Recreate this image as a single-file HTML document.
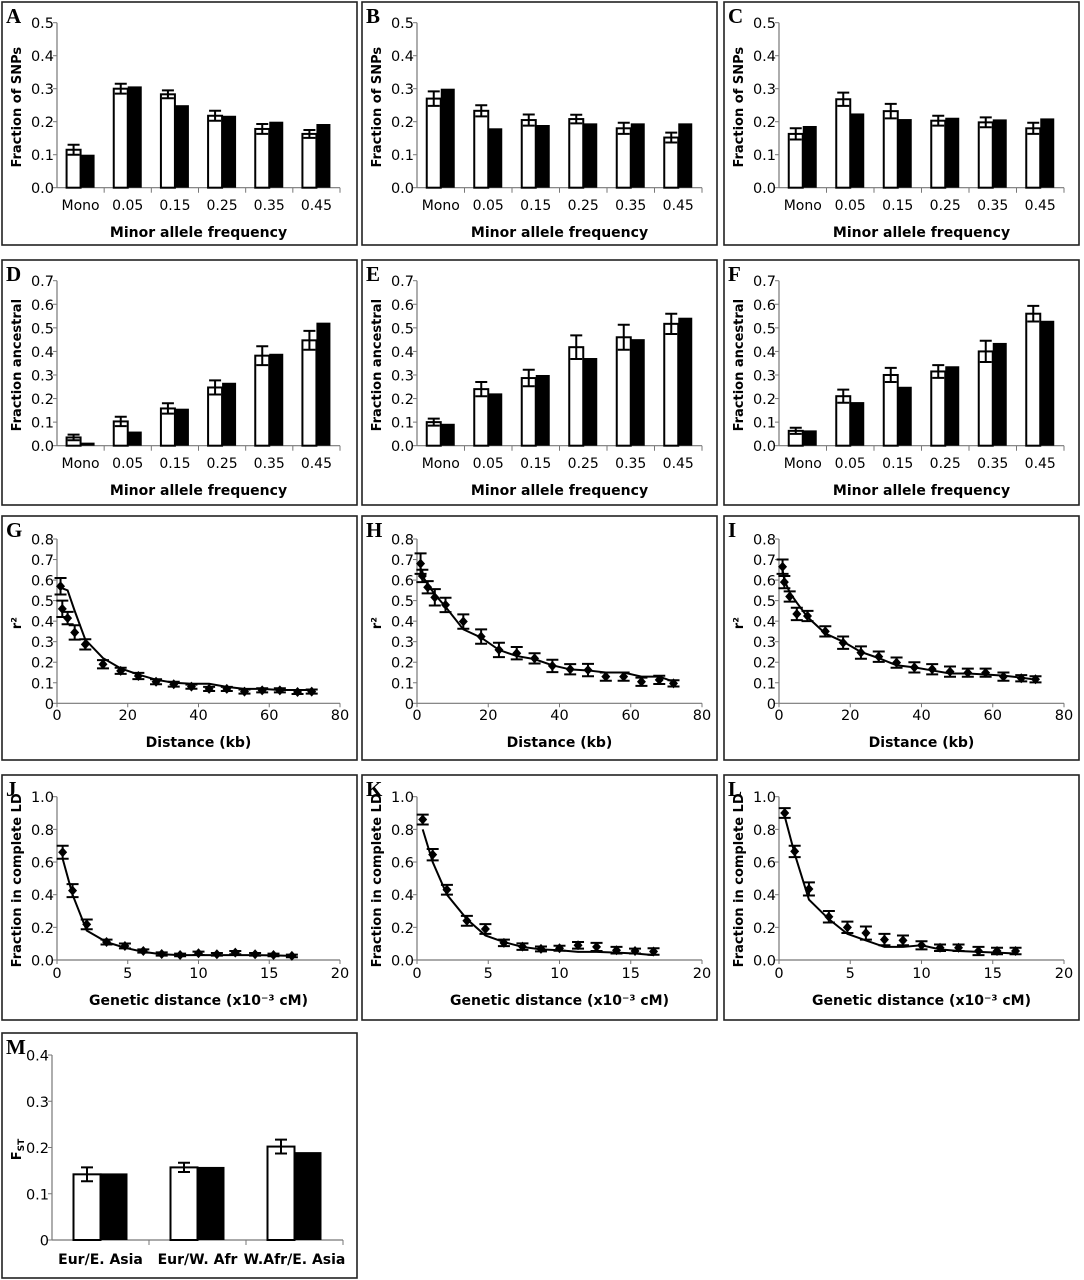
<!DOCTYPE html>
<html><head><meta charset="utf-8"><style>
html,body{margin:0;padding:0;background:#fff;}
svg{display:block;font-family:"DejaVu Sans","Liberation Sans",sans-serif;}
</style></head><body>
<svg id="fig" width="1084" height="1280" viewBox="0 0 1084 1280" xmlns="http://www.w3.org/2000/svg"></svg>
<script>
// ---- data ----
const mafCats = ["Mono","0.05","0.15","0.25","0.35","0.45"];
const aWhite = [0.115,0.30,0.283,0.218,0.178,0.163];
const aErr   = [0.015,0.015,0.012,0.015,0.015,0.012];
const aBlack = [0.10,0.307,0.25,0.218,0.20,0.193];
const bWhite = [0.27,0.233,0.205,0.208,0.18,0.152];
const bErr   = [0.022,0.017,0.017,0.013,0.017,0.015];
const bBlack = [0.30,0.18,0.19,0.195,0.195,0.195];
const cWhite = [0.163,0.268,0.232,0.203,0.198,0.18];
const cErr   = [0.017,0.02,0.022,0.015,0.015,0.017];
const cBlack = [0.187,0.225,0.208,0.212,0.207,0.21];
const dWhite = [0.035,0.103,0.158,0.247,0.382,0.447];
const dErr   = [0.012,0.02,0.022,0.03,0.04,0.04];
const dBlack = [0.013,0.06,0.157,0.267,0.39,0.522];
const eWhite = [0.10,0.24,0.287,0.418,0.46,0.517];
const eErr   = [0.015,0.03,0.035,0.05,0.053,0.043];
const eBlack = [0.093,0.222,0.30,0.372,0.452,0.543];
const fWhite = [0.063,0.21,0.30,0.315,0.40,0.56];
const fErr   = [0.013,0.028,0.03,0.027,0.045,0.033];
const fBlack = [0.065,0.185,0.25,0.337,0.436,0.53];
const fstCats = ["Eur/E. Asia","Eur/W. Afr","W.Afr/E. Asia"];
const mWhite = [0.142,0.157,0.202];
const mErr   = [0.015,0.01,0.015];
const mBlack = [0.144,0.158,0.19];
const snpTicks = ["0.0","0.1","0.2","0.3","0.4","0.5"];
const ancTicks = ["0.0","0.1","0.2","0.3","0.4","0.5","0.6","0.7"];
const fstTicks = ["0","0.1","0.2","0.3","0.4"];
const r2Ticks = ["0","0.1","0.2","0.3","0.4","0.5","0.6","0.7","0.8"];
const kbTicks = ["0","20","40","60","80"];
const ldTicks = ["0.0","0.2","0.4","0.6","0.8","1.0"];
const cmTicks = ["0","5","10","15","20"];
const kbX = [1,1.5,3,5,8,13,18,23,28,33,38,43,48,53,58,63,68,72];
const gPts = [0.57,0.46,0.415,0.345,0.287,0.19,0.158,0.133,0.105,0.093,0.081,0.07,0.07,0.057,0.063,0.063,0.055,0.057];
const gErr = [0.04,0.04,0.03,0.035,0.025,0.02,0.015,0.015,0.012,0.012,0.01,0.01,0.01,0.01,0.01,0.01,0.01,0.01];
const gLine = [0.58,0.56,0.55,0.45,0.31,0.22,0.17,0.14,0.115,0.1,0.095,0.095,0.08,0.07,0.07,0.065,0.065,0.065];
const hPts = [0.68,0.62,0.565,0.516,0.479,0.398,0.325,0.26,0.244,0.219,0.182,0.166,0.162,0.13,0.13,0.105,0.114,0.097];
const hErr = [0.05,0.03,0.03,0.04,0.035,0.035,0.035,0.035,0.03,0.025,0.03,0.025,0.03,0.02,0.02,0.02,0.02,0.015];
const hLine = [0.66,0.62,0.58,0.53,0.47,0.36,0.32,0.26,0.23,0.215,0.185,0.165,0.16,0.15,0.15,0.13,0.13,0.105];
const iPts = [0.665,0.59,0.52,0.435,0.425,0.35,0.295,0.247,0.227,0.198,0.175,0.166,0.154,0.149,0.149,0.13,0.122,0.117];
const iErr = [0.035,0.03,0.025,0.03,0.025,0.025,0.03,0.03,0.025,0.025,0.025,0.025,0.025,0.02,0.02,0.02,0.015,0.015];
const iLine = [0.65,0.6,0.54,0.49,0.42,0.34,0.3,0.25,0.22,0.185,0.175,0.16,0.145,0.145,0.14,0.135,0.125,0.115];
const cmX = [0.4,1.1,2.1,3.5,4.8,6.1,7.4,8.7,10,11.3,12.6,14,15.3,16.6];
const jPts = [0.66,0.425,0.218,0.11,0.086,0.055,0.037,0.031,0.041,0.035,0.045,0.035,0.031,0.025];
const jErr = [0.04,0.04,0.03,0.015,0.015,0.01,0.01,0.008,0.01,0.008,0.01,0.008,0.008,0.008];
const jLine = [0.62,0.4,0.18,0.11,0.075,0.05,0.035,0.03,0.03,0.03,0.03,0.03,0.028,0.025];
const kPts = [0.86,0.645,0.43,0.24,0.19,0.105,0.082,0.068,0.072,0.09,0.08,0.06,0.055,0.052];
const kErr = [0.03,0.035,0.03,0.03,0.03,0.02,0.02,0.015,0.015,0.02,0.025,0.02,0.015,0.02];
const kLine = [0.8,0.6,0.4,0.25,0.15,0.11,0.08,0.065,0.06,0.05,0.05,0.045,0.04,0.03];
const lPts = [0.9,0.665,0.435,0.265,0.2,0.165,0.125,0.12,0.09,0.075,0.075,0.055,0.055,0.055];
const lErr = [0.03,0.035,0.04,0.035,0.035,0.04,0.035,0.03,0.025,0.02,0.02,0.025,0.02,0.02];
const lLine = [0.88,0.65,0.37,0.25,0.16,0.12,0.08,0.08,0.09,0.065,0.055,0.05,0.045,0.04];

const NS="http://www.w3.org/2000/svg";
const svg=document.getElementById('fig');
function mk(tag,attrs,parent,text){const e=document.createElementNS(NS,tag);for(const k in attrs)e.setAttribute(k,attrs[k]);if(text!==undefined)e.textContent=text;(parent||svg).appendChild(e);return e;}

const cols=[{bx:2,ax:57,rx:340},{bx:362,ax:417,rx:702},{bx:724,ax:779,rx:1064}];
const rows={
 A:{top:2,bot:245,y0:187.7,yt:22.7,lab:210,tit:237},
 D:{top:260,bot:505,y0:445.7,yt:280.7,lab:468,tit:495},
 G:{top:516,bot:760,y0:703.3,yt:539,lab:725,tit:747},
 J:{top:775,bot:1020,y0:960,yt:796.7,lab:983,tit:1005},
 M:{top:1033,bot:1278,y0:1240,yt:1055,lab:1264,tit:0}
};

function frame(letter,col,row,ytitle,ytick,xtitle,w){
  const g=mk('g',{});
  
  
  const r=mk('rect',{x:col.bx,y:row.top,width:w||355,height:row.bot-row.top,fill:'none',stroke:'#222','stroke-width':1.6},g);
  
  
  const t=mk('text',{x:col.bx+4,y:row.top+21,'font-family':'"Liberation Serif",serif','font-weight':'bold','font-size':21},g,letter);
  
  
  const ym=(row.y0+row.yt)/2+2;
  const yt=mk('text',{x:0,y:0,transform:`translate(${col.bx+19},${ym}) rotate(-90)`,'text-anchor':'middle','font-weight':'bold','font-size':13},g);
  
  
  if(ytitle==='FST'){
    mk('tspan',{},yt,'F');
    mk('tspan',{'font-size':9,dy:3},yt,'ST');
  } else yt.textContent=ytitle;
  if(xtitle){
    const xt=mk('text',{x:(col.ax+col.rx)/2,y:row.tit,'text-anchor':'middle','font-weight':'bold','font-size':14},g,xtitle);
    
    
  }
  const n=ytick.length-1;
  const yax=mk('line',{x1:col.ax,y1:row.yt,x2:col.ax,y2:row.y0,stroke:'#777','stroke-width':1.2},g);
  
  
  const xax=mk('line',{x1:col.ax,y1:row.y0,x2:col.rx,y2:row.y0,stroke:'#777','stroke-width':1.2},g);
  
  
  ytick.forEach((lab,i)=>{
    const y=row.y0-(row.y0-row.yt)*i/n;
    mk('line',{x1:col.ax-4,y1:y,x2:col.ax,y2:y,stroke:'#777'},g);
    const tl=mk('text',{x:col.ax-3,y:y+5.5,'text-anchor':'end','font-size':14.5},g,lab);
    
    
  });
  return g;
}

function barPanel(letter,col,row,cats,white,err,black,ticks,ymax,ytitle,xtitle,bw,w){
  const g=frame(letter,col,row,ytitle,ticks,xtitle,w);
  const ys=v=>row.y0-(row.y0-row.yt)*v/ymax;
  const cw=(col.rx-col.ax)/cats.length;
  cats.forEach((c,i)=>{
    const cx=col.ax+cw*(i+0.5);
    mk('line',{x1:col.ax+cw*(i+1),y1:row.y0,x2:col.ax+cw*(i+1),y2:row.y0+5,stroke:'#777'},g);
    const wb=mk('rect',{x:cx-bw,y:ys(white[i]),width:bw,height:row.y0-ys(white[i]),fill:'#fff',stroke:'#000','stroke-width':2},g);
    
    
    const bb=mk('rect',{x:cx,y:ys(black[i]),width:bw,height:row.y0-ys(black[i]),fill:'#000'},g);
    
    
    const ex=cx-bw/2, y1=ys(white[i]+err[i]), y2=ys(white[i]-err[i]);
    const eb=mk('path',{d:`M${ex},${y1}V${y2}M${ex-6},${y1}H${ex+6}M${ex-6},${y2}H${ex+6}`,stroke:'#000','stroke-width':2,fill:'none'},g);
    
    
    const cl=mk('text',{x:cx,y:row.lab,'text-anchor':'middle','font-size':14,'font-weight':(cats===fstCats?'bold':'normal')},g,c);
    
    
  });
}

function linePanel(letter,col,row,xs,pts,err,line,yt,ymax,xt,xmax,ytitle,xtitle){
  const g=frame(letter,col,row,ytitle,yt,xtitle);
  const ys=v=>row.y0-(row.y0-row.yt)*v/ymax;
  const xsF=v=>col.ax+(col.rx-col.ax)*v/xmax;
  xt.forEach((lab,i)=>{
    const x=col.ax+(col.rx-col.ax)*i/(xt.length-1);
    mk('line',{x1:x,y1:row.y0,x2:x,y2:row.y0+4,stroke:'#777'},g);
    const tl=mk('text',{x:x,y:row.lab-5,'text-anchor':'middle','font-size':14.5},g,lab);
    
    
  });
  const pl=mk('polyline',{points:xs.map((x,i)=>xsF(x)+','+ys(line[i])).join(' '),fill:'none',stroke:'#000','stroke-width':2},g);
  
  
  xs.forEach((x,i)=>{
    const px=xsF(x),py=ys(pts[i]),y1=ys(pts[i]+err[i]),y2=ys(pts[i]-err[i]);
    const eb=mk('path',{d:`M${px},${y1}V${y2}M${px-6},${y1}H${px+6}M${px-6},${y2}H${px+6}`,stroke:'#000','stroke-width':2,fill:'none'},g);
    
    
    const d=mk('path',{d:`M${px},${py-5}L${px+4.5},${py}L${px},${py+5}L${px-4.5},${py}Z`,fill:'#000'},g);
    
    
  });
}

const maf="Minor allele frequency";
barPanel('A',cols[0],rows.A,mafCats,aWhite,aErr,aBlack,snpTicks,0.5,'Fraction of SNPs',maf,14);
barPanel('B',cols[1],rows.A,mafCats,bWhite,bErr,bBlack,snpTicks,0.5,'Fraction of SNPs',maf,14);
barPanel('C',cols[2],rows.A,mafCats,cWhite,cErr,cBlack,snpTicks,0.5,'Fraction of SNPs',maf,14);
barPanel('D',cols[0],rows.D,mafCats,dWhite,dErr,dBlack,ancTicks,0.7,'Fraction ancestral',maf,14);
barPanel('E',cols[1],rows.D,mafCats,eWhite,eErr,eBlack,ancTicks,0.7,'Fraction ancestral',maf,14);
barPanel('F',cols[2],rows.D,mafCats,fWhite,fErr,fBlack,ancTicks,0.7,'Fraction ancestral',maf,14);
linePanel('G',cols[0],rows.G,kbX,gPts,gErr,gLine,r2Ticks,0.8,kbTicks,80,'r²','Distance (kb)');
linePanel('H',cols[1],rows.G,kbX,hPts,hErr,hLine,r2Ticks,0.8,kbTicks,80,'r²','Distance (kb)');
linePanel('I',cols[2],rows.G,kbX,iPts,iErr,iLine,r2Ticks,0.8,kbTicks,80,'r²','Distance (kb)');
const gd="Genetic distance (x10⁻³ cM)";
linePanel('J',cols[0],rows.J,cmX,jPts,jErr,jLine,ldTicks,1.0,cmTicks,20,'Fraction in complete LD',gd);
linePanel('K',cols[1],rows.J,cmX,kPts,kErr,kLine,ldTicks,1.0,cmTicks,20,'Fraction in complete LD',gd);
linePanel('L',cols[2],rows.J,cmX,lPts,lErr,lLine,ldTicks,1.0,cmTicks,20,'Fraction in complete LD',gd);
barPanel('M',{bx:2,ax:52,rx:343},rows.M,fstCats,mWhite,mErr,mBlack,fstTicks,0.4,'FST',null,27);
</script>
</body></html>
